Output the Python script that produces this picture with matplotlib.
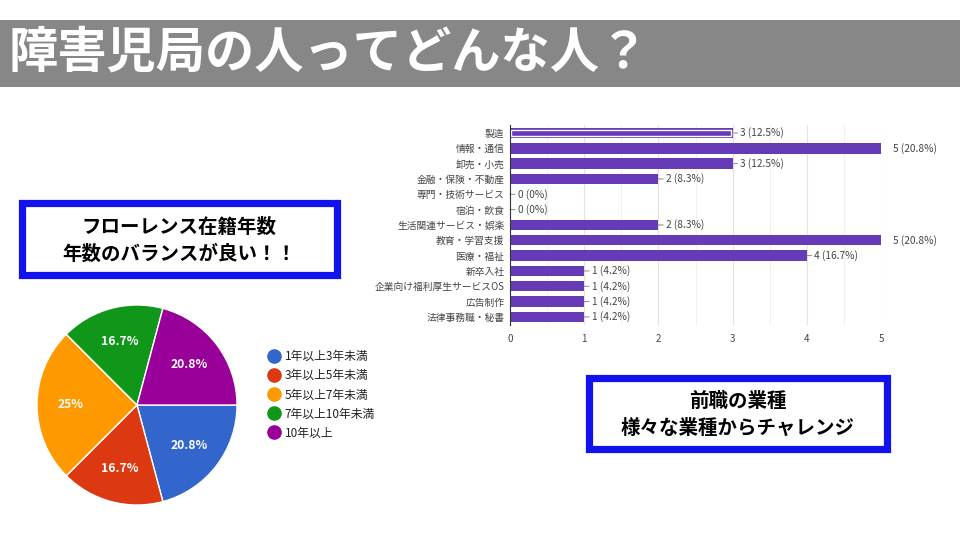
import matplotlib
matplotlib.use("Agg")
import matplotlib.pyplot as plt
from matplotlib.patches import Rectangle
from matplotlib.lines import Line2D
import math

plt.rcParams['font.family'] = ['Noto Sans CJK JP', 'DejaVu Sans']

# ---- data ----
title = "障害児局の人ってどんな人？"
industries = ["製造", "情報・通信", "卸売・小売", "金融・保険・不動産", "専門・技術サービス",
              "宿泊・飲食", "生活関連サービス・娯楽", "教育・学習支援", "医療・福祉", "新卒入社",
              "企業向け福利厚生サービスOS", "広告制作", "法律事務職・秘書"]
industry_counts = [3, 5, 3, 2, 0, 0, 2, 5, 4, 1, 1, 1, 1]
industry_pcts = ["12.5%", "20.8%", "12.5%", "8.3%", "0%", "0%", "8.3%", "20.8%", "16.7%",
                 "4.2%", "4.2%", "4.2%", "4.2%"]
x_ticks = [0, 1, 2, 3, 4, 5]

tenure_labels = ["1年以上3年未満", "3年以上5年未満", "5年以上7年未満", "7年以上10年未満", "10年以上"]
tenure_counts = [5, 4, 6, 4, 5]
tenure_pct_labels = ["20.8%", "16.7%", "25%", "16.7%", "20.8%"]
tenure_colors = ["#3366cc", "#dc3912", "#ff9900", "#109618", "#990099"]

box1_text = "フローレンス在籍年数\n年数のバランスが良い！！"
box2_text = "前職の業種\n様々な業種からチャレンジ"

W, H = 960, 540
fig = plt.figure(figsize=(9.6, 5.4), dpi=100)
fig.patch.set_facecolor("white")

def fx(px): return px / W
def fy(py): return 1 - py / H

# ---- title bar ----
fig.patches.append(Rectangle((0, fy(87)), 1, (87 - 20) / H, transform=fig.transFigure,
                             facecolor="#878787", edgecolor="none", zorder=0))
fig.text(fx(9), fy(53), title, color="white", fontsize=35.5, fontweight="bold",
         ha="left", va="center")

# ---- bar chart ----
purple = "#673ab7"
n = len(industries)
top_px, row_px = 125.3, 15.33
axb = fig.add_axes([fx(510), fy(top_px + n * row_px), fx(881) - fx(510), n * row_px / H])
ypos = list(range(n))
axb.barh(ypos, industry_counts, height=0.68, color=purple, zorder=3)
# highlighted first bar (hover outline)
axb.barh([0], [industry_counts[0] - 0.04], height=0.38, left=0.02, facecolor="none",
         edgecolor="white", linewidth=1.0, zorder=4)
axb.set_ylim(n - 0.5, -0.5)
axb.set_xlim(0, 5)
axb.set_yticks(ypos)
axb.set_yticklabels(industries, fontsize=7, color="#444444")
axb.set_xticks(x_ticks)
axb.set_xticklabels([str(t) for t in x_ticks], fontsize=7, color="#444444")
axb.set_xticks([0.5, 1.5, 2.5, 3.5, 4.5], minor=True)
axb.tick_params(axis="both", length=0)
axb.tick_params(axis="y", pad=4)
axb.tick_params(axis="x", pad=7)
axb.tick_params(which="minor", length=0)
axb.grid(axis="x", which="major", color="#e2e2e2", linewidth=0.8, zorder=0)
axb.grid(axis="x", which="minor", color="#f0f0f0", linewidth=0.8, zorder=0)
for s in ["top", "right", "bottom"]:
    axb.spines[s].set_visible(False)
axb.spines["left"].set_color("#333333")
axb.spines["left"].set_linewidth(0.8)
axb.spines["left"].set_zorder(5)
for i, (v, p) in enumerate(zip(industry_counts, industry_pcts)):
    lab = f"{v} ({p})"
    if v >= 5:
        axb.annotate(lab, (v, i), xytext=(8.5, 0), textcoords="offset points",
                     ha="left", va="center", fontsize=7.3, color="#444444", annotation_clip=False)
    else:
        axb.annotate(lab, (v, i), xytext=(5.5, 0), textcoords="offset points",
                     ha="left", va="center", fontsize=7.3, color="#444444",
                     arrowprops=dict(arrowstyle="-", color="#888888", lw=0.7,
                                     shrinkA=0, shrinkB=0))

# ---- pie chart ----
cx, cy, r = 137, 405, 100
axp = fig.add_axes([fx(cx - r), fy(cy + r), 2 * r / W, 2 * r / H])
wedges, _ = axp.pie(tenure_counts, colors=tenure_colors, startangle=0, counterclock=False,
                    wedgeprops=dict(edgecolor="white", linewidth=1.0))
total = sum(tenure_counts)
ang = 0.0
for w, lbl in zip(tenure_counts, tenure_pct_labels):
    span = 360.0 * w / total
    mid = math.radians(ang - span / 2)
    axp.text(0.66 * math.cos(mid), 0.66 * math.sin(mid), lbl, color="white",
             fontsize=8.8, fontweight="bold", ha="center", va="center")
    ang -= span
axp.set_xlim(-1.0, 1.0)
axp.set_ylim(-1.0, 1.0)
axp.set_aspect("equal")

handles = [Line2D([], [], marker="o", linestyle="none", markersize=9.5,
                  markerfacecolor=c, markeredgecolor=c) for c in tenure_colors]
fig.legend(handles, tenure_labels, loc="upper left", bbox_to_anchor=(fx(267), fy(350)),
           frameon=False, fontsize=8.5, labelcolor="#222222", handletextpad=0.3,
           labelspacing=0.52, handlelength=1.2, borderaxespad=0, borderpad=0)

# ---- text boxes ----
blue = "#1212ee"
def box(x0, y0, x1, y1, text, ylines):
    fig.patches.append(Rectangle((fx(x0 + 3.5), fy(y1 - 3.5)), (x1 - x0 - 7) / W, (y1 - y0 - 7) / H,
                                 transform=fig.transFigure, facecolor="white",
                                 edgecolor=blue, linewidth=5.2, zorder=2))
    for t, yy in zip(text.split("\n"), ylines):
        fig.text(fx((x0 + x1) / 2), fy(yy), t, ha="center", va="center",
                 fontsize=14, fontweight="bold", color="black", zorder=3)

box(18, 200, 340, 278, box1_text, [227, 254])
box(585, 374, 890, 452, box2_text, [401, 428])

fig.savefig("out.png", dpi=100)
